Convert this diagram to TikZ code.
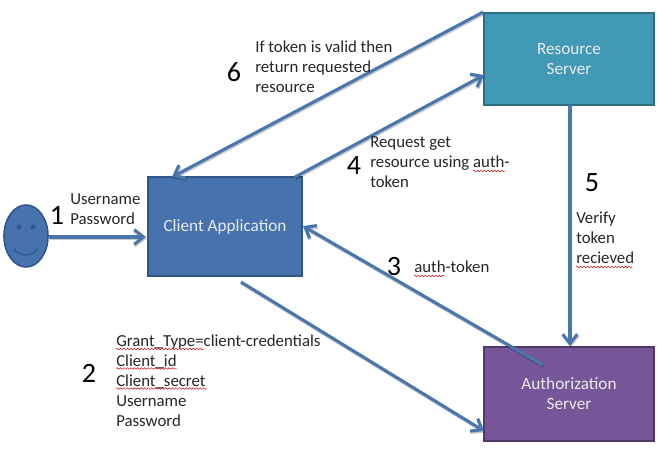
\documentclass[tikz,border=0pt]{standalone}
\usepackage{fontspec}
\setmainfont{Carlito}
\usetikzlibrary{arrows.meta,decorations.pathmorphing,shapes.geometric}
\definecolor{flowblue}{HTML}{4A76AE}
\definecolor{clientfill}{RGB}{70,114,174}
\definecolor{clientline}{RGB}{50,86,135}
\definecolor{resfill}{RGB}{65,153,182}
\definecolor{resline}{RGB}{48,110,132}
\definecolor{authfill}{RGB}{118,85,152}
\definecolor{authline}{RGB}{80,58,108}
\tikzset{
    >={Straight Barb[length=7pt,width=11pt]},
    flow/.style={->,line width=2.3pt,draw=flowblue,preaction={draw=black,draw opacity=0.22,line width=2.4pt,transform canvas={xshift=0.5pt,yshift=-1.1pt}}},
    box/.style={draw,line width=1.4pt,inner sep=0pt,align=center,text=white!92!black,font=\fontsize{12.9pt}{15pt}\selectfont},
    note_text/.style={inner sep=0pt,anchor=west,align=left,text=black!85,font=\fontsize{12.6pt}{15pt}\selectfont},
    step_num/.style={inner sep=0pt,text=black,font=\fontsize{21pt}{21pt}\selectfont},
    squiggle/.style={draw=red!75!black,line width=0.35pt,decorate,decoration={snake,amplitude=0.6pt,segment length=2.6pt}},
}
\begin{document}
\begin{tikzpicture}[x=0.75pt,y=-0.75pt]
    \useasboundingbox (0,0) rectangle (659,459);
    % servers and client
    \node[box,fill=clientfill,draw=clientline,minimum width=115.5pt,minimum height=74.25pt] (client) at (225,226.5) {Client Application};
    \node[box,fill=resfill,draw=resline,minimum width=127.5pt,minimum height=69pt] (resource) at (569,59) {Resource\\Server};
    \node[box,fill=authfill,draw=authline,minimum width=127.5pt,minimum height=70.5pt] (auth) at (569,394) {Authorization\\Server};
    % the user
    \node[draw=clientline,fill=clientfill,line width=1.2pt,ellipse,inner sep=0pt,minimum width=33pt,minimum height=46.5pt] (user) at (26,236) {};
    \fill[clientline] (19,227) circle (2.4) (33,227) circle (2.4);
    \draw[line width=1pt,clientline] (14,249) .. controls (21,257) and (31,257) .. (38,249);
    % free ends on the box edges
    \coordinate (client_top) at (172,177);
    \coordinate (client_corner) at (295,177);
    \coordinate (client_right) at (303,226);
    \coordinate (client_low) at (241,282);
    \coordinate (res_left) at (484,75);
    \coordinate (res_bottom) at (570,105);
    \coordinate (auth_top) at (570,346);
    \coordinate (auth_in) at (543,365);
    \coordinate (auth_left) at (484,431);
    \coordinate (user_right) at (49,237);
    \coordinate (client_left) at (146,237);
    % arrows
    \draw[flow] (user_right) -- (client_left);
    \draw[flow] (client_low) -- (auth_left);
    \draw[flow] (auth_in) -- (client_right);
    \draw[flow] (client_corner) -- (res_left);
    \draw[flow] (res_bottom) -- (auth_top);
    \draw[flow] (resource.north west) -- (client_top);
    % step labels
    \node[step_num] (n1) at (57,215) {1};
    \node[step_num] (n2) at (89,373) {2};
    \node[step_num] (n3) at (394,267) {3};
    \node[step_num] (n4) at (354,166) {4};
    \node[step_num] (n5) at (592,183) {5};
    \node[step_num] (n6) at (234,72) {6};
    \node[note_text] (t1) at (70,209) {Username\\Password};
    \node[note_text] (t2) at (116,381) {Grant\_Type=client-credentials\\Client\_id\\Client\_secret\\Username\\Password};
    \node[note_text] (t3) at (414,267) {auth-token};
    \node[note_text] (t4) at (370,162) {Request get\\resource using auth-\\token};
    \node[note_text] (t5) at (576,238) {Verify\\token\\recieved};
    \node[note_text] (t6) at (255,67) {If token is valid then\\return requested\\resource};
    % spelling marks
    \draw[squiggle] (116,349) -- (204,349);
    \draw[squiggle] (116,368.5) -- (177,368.5);
    \draw[squiggle] (116,388.5) -- (207,388.5);
    \draw[squiggle] (414,276) -- (445,276);
    \draw[squiggle] (473,171) -- (505,171);
    \draw[squiggle] (576,267) -- (633,267);
\end{tikzpicture}
\end{document}
